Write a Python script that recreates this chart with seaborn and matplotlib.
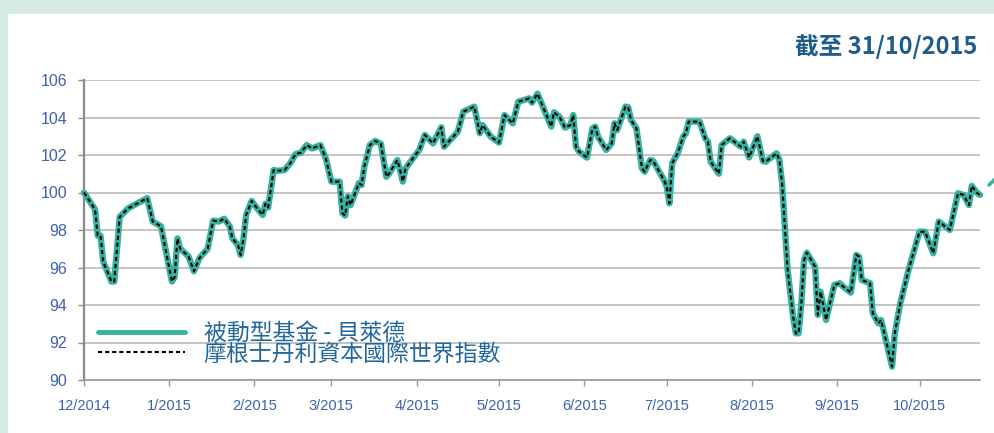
import pandas as pd
import numpy as np
import matplotlib
matplotlib.use("Agg")
import matplotlib.pyplot as plt
from matplotlib.lines import Line2D
from matplotlib.patches import Rectangle
import seaborn as sns

# ============================================================
# DATA
# ============================================================
dates = [
    "2014-12-01", "2014-12-05", "2014-12-06", "2014-12-07", "2014-12-08", "2014-12-11",
    "2014-12-12", "2014-12-14", "2014-12-17", "2014-12-24", "2014-12-26", "2014-12-29",
    "2015-01-02", "2015-01-03", "2015-01-04", "2015-01-05", "2015-01-08", "2015-01-10",
    "2015-01-12", "2015-01-15", "2015-01-17", "2015-01-19", "2015-01-21", "2015-01-23",
    "2015-01-24", "2015-01-26", "2015-01-27", "2015-01-28", "2015-01-29", "2015-01-31",
    "2015-02-02", "2015-02-04", "2015-02-05", "2015-02-06", "2015-02-08", "2015-02-09",
    "2015-02-12", "2015-02-14", "2015-02-16", "2015-02-18", "2015-02-20", "2015-02-22",
    "2015-02-25", "2015-02-27", "2015-03-01", "2015-03-04", "2015-03-05", "2015-03-06",
    "2015-03-07", "2015-03-08", "2015-03-11", "2015-03-12", "2015-03-13", "2015-03-15",
    "2015-03-17", "2015-03-19", "2015-03-20", "2015-03-21", "2015-03-22", "2015-03-25",
    "2015-03-26", "2015-03-27", "2015-03-28", "2015-04-02", "2015-04-04", "2015-04-07",
    "2015-04-10", "2015-04-11", "2015-04-16", "2015-04-18", "2015-04-22", "2015-04-24",
    "2015-04-25", "2015-04-28", "2015-05-01", "2015-05-03", "2015-05-06", "2015-05-08",
    "2015-05-12", "2015-05-13", "2015-05-15", "2015-05-18", "2015-05-20", "2015-05-21",
    "2015-05-23", "2015-05-25", "2015-05-27", "2015-05-28", "2015-05-29", "2015-05-30",
    "2015-06-02", "2015-06-04", "2015-06-05", "2015-06-06", "2015-06-09", "2015-06-11",
    "2015-06-12", "2015-06-13", "2015-06-16", "2015-06-17", "2015-06-18", "2015-06-20",
    "2015-06-22", "2015-06-23", "2015-06-25", "2015-06-26", "2015-06-30", "2015-07-01",
    "2015-07-02", "2015-07-03", "2015-07-05", "2015-07-07", "2015-07-08", "2015-07-09",
    "2015-07-13", "2015-07-15", "2015-07-16", "2015-07-17", "2015-07-20", "2015-07-21",
    "2015-07-24", "2015-07-28", "2015-07-29", "2015-07-31", "2015-08-03", "2015-08-05",
    "2015-08-06", "2015-08-10", "2015-08-11", "2015-08-12", "2015-08-13", "2015-08-14",
    "2015-08-16", "2015-08-17", "2015-08-18", "2015-08-19", "2015-08-20", "2015-08-21",
    "2015-08-24", "2015-08-25", "2015-08-26", "2015-08-28", "2015-08-31", "2015-09-02",
    "2015-09-03", "2015-09-06", "2015-09-08", "2015-09-09", "2015-09-10", "2015-09-13",
    "2015-09-14", "2015-09-16", "2015-09-17", "2015-09-18", "2015-09-21", "2015-09-22",
    "2015-09-24", "2015-09-27", "2015-10-01", "2015-10-03", "2015-10-06", "2015-10-08",
    "2015-10-12", "2015-10-15", "2015-10-17", "2015-10-19", "2015-10-20", "2015-10-22",
    "2015-10-23",
]

fund_values = [
    100.0, 99.1, 97.7, 97.7, 96.3, 95.25,
    95.25, 98.7, 99.15, 99.7, 98.45, 98.2,
    95.25, 95.5, 97.55, 97.0, 96.6, 95.8,
    96.5, 97.0, 98.5, 98.45, 98.6, 98.2,
    97.55, 97.2, 96.67, 97.5, 98.8, 99.55,
    99.15, 98.8, 99.4, 99.2, 101.2, 101.15,
    101.2, 101.55, 102.05, 102.13, 102.53, 102.35,
    102.53, 101.8, 100.58, 100.58, 98.9, 98.77,
    99.8, 99.33, 100.5, 100.4, 101.38, 102.53,
    102.75, 102.6, 101.73, 100.84, 101.0, 101.73,
    101.2, 100.58, 101.29, 102.27, 103.07, 102.62,
    103.48, 102.44, 103.24, 104.31, 104.58, 103.16,
    103.6, 102.98, 102.66, 104.13, 103.69, 104.84,
    105.02, 104.79, 105.27, 104.22, 103.51, 104.28,
    104.04, 103.46, 103.6, 104.13, 102.44, 102.2,
    101.86, 103.42, 103.51, 102.98, 102.27, 102.62,
    103.69, 103.33, 104.58, 104.55, 103.87, 103.42,
    101.29, 101.11, 101.73, 101.7, 100.67, 100.31,
    99.42, 101.56, 102.09, 102.98, 103.16, 103.78,
    103.78, 102.89, 102.71, 101.64, 101.0, 102.53,
    102.89, 102.44, 102.71, 101.87, 103.0, 101.68,
    101.64, 102.09, 101.73, 100.49, 98.18, 95.87,
    93.38, 92.49, 92.49, 94.09, 96.4, 96.79,
    96.04, 93.47, 94.71, 93.2, 95.07, 95.16,
    95.01, 94.66, 96.67, 96.58, 95.33, 95.16,
    93.56, 93.02, 93.2, 92.6, 90.71, 92.49,
    94.09, 95.87, 97.91, 97.91, 96.76, 98.45,
    98.0, 99.96, 99.87, 99.33, 100.35, 99.96,
    99.87,
]
# the index tracks the fund so closely the two lines coincide
index_values = list(fund_values)

series_names = ["被動型基金 - 貝萊德", "摩根士丹利資本國際世界指數"]
month_ticks = ["2014-12-01", "2015-01-01", "2015-02-01", "2015-03-01", "2015-04-01",
               "2015-05-01", "2015-06-01", "2015-07-01", "2015-08-01", "2015-09-01",
               "2015-10-01"]
month_labels = ["12/2014", "1/2015", "2/2015", "3/2015", "4/2015", "5/2015",
                "6/2015", "7/2015", "8/2015", "9/2015", "10/2015"]
y_ticks = [90, 92, 94, 96, 98, 100, 102, 104, 106]
title_text = "截至 31/10/2015"

df = pd.DataFrame({
    "date": pd.to_datetime(dates),
    "fund": fund_values,
    "index": index_values,
})

# ============================================================
# STYLE
# ============================================================
sns.set_style("white")
plt.rcParams['font.family'] = ['Liberation Sans', 'Noto Sans CJK TC', 'DejaVu Sans']

teal = "#38b2a0"
tick_blue = "#3d63ad"
text_blue = "#22679a"
mint = "#d5ebe4"

fig = plt.figure(figsize=(9.95, 4.33), dpi=100)
fig.patch.set_facecolor("white")
# mint frame round the white panel
fig.add_artist(Rectangle((0, 1 - 14 / 433), 1, 14 / 433, transform=fig.transFigure,
                         facecolor=mint, edgecolor="none", zorder=0))
fig.add_artist(Rectangle((0, 0), 8 / 995, 1, transform=fig.transFigure,
                         facecolor=mint, edgecolor="none", zorder=0))

ax = fig.add_axes([84 / 995, 1 - 380 / 433, (980 - 84) / 995, 300 / 433])
ax.set_facecolor("white")

sns.lineplot(data=df, x="date", y="fund", ax=ax, color=teal, linewidth=4.6,
             solid_joinstyle="round", solid_capstyle="round", label=series_names[0],
             clip_on=False, zorder=3)
sns.lineplot(data=df, x="date", y="index", ax=ax, color="black", linewidth=1.5,
             linestyle=(0, (2.0, 1.4)), label=series_names[1], clip_on=False, zorder=4)

ax.set_ylim(90, 106)
ax.set_xlim(pd.Timestamp("2014-12-01"), pd.Timestamp("2015-10-23"))
ax.set_yticks(y_ticks)
ax.set_yticklabels([str(v) for v in y_ticks])
ax.set_xticks(pd.to_datetime(month_ticks))
ax.set_xticklabels(month_labels)
ax.set_xlabel("")
ax.set_ylabel("")

ax.yaxis.grid(True, color="#b4b4b4", linewidth=1.1)
ax.xaxis.grid(False)
ax.set_axisbelow(True)
for side in ["top", "right"]:
    ax.spines[side].set_visible(False)
ax.spines["left"].set_color("#8a8a8a")
ax.spines["left"].set_linewidth(1.6)
ax.spines["bottom"].set_color("#9a9a9a")
ax.spines["bottom"].set_linewidth(1.2)

ax.tick_params(axis="y", colors="#8a8a8a", labelcolor=tick_blue, labelsize=11.5,
               length=4, width=1, direction="out", left=True, pad=8)
ax.tick_params(axis="x", colors="#9a9a9a", labelcolor=tick_blue, labelsize=10.5,
               length=4, width=1, direction="out", bottom=True, pad=10)
for lbl in ax.get_xticklabels():
    lbl.set_x(lbl.get_position()[0])

leg = ax.legend(loc="lower left", bbox_to_anchor=(-0.002, -0.005), frameon=False,
                fontsize=16.5, handlelength=3.8, handletextpad=0.8, labelspacing=-0.1,
                borderpad=0.2)
for t in leg.get_texts():
    t.set_color(text_blue)
    t.set_family(['Noto Sans CJK TC', 'DejaVu Sans'])
leg.get_lines()[0].set_linewidth(3.5)
leg.get_lines()[0].set_linestyle("-")
leg.get_lines()[1].set_linewidth(1.5)

fig.text(977 / 995, 1 - 47 / 433, title_text, ha="right", va="center",
         fontsize=17, fontweight="bold", color="#1f5c8a",
         family=['Noto Sans CJK TC', 'DejaVu Sans'])

# small teal stroke cut off at the right edge
fig.add_artist(Line2D([989 / 995, 1.0], [1 - 185 / 433, 1 - 179 / 433],
                      transform=fig.transFigure, color=teal, linewidth=2.5))

plt.savefig("out.png", dpi=100, facecolor=fig.get_facecolor())
